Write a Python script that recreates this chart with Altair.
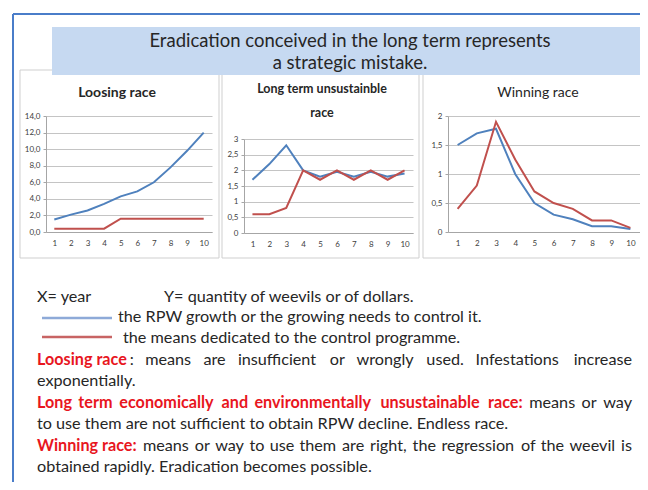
import altair as alt
import pandas as pd

# ---------------- data ----------------
years = list(range(1, 11))
series_names = ["RPW growth", "Control means"]

loosing_growth = [1.5, 2.1, 2.6, 3.4, 4.3, 4.9, 6.0, 7.8, 9.8, 12.0]
loosing_means = [0.4, 0.4, 0.4, 0.4, 1.6, 1.6, 1.6, 1.6, 1.6, 1.6]
loosing_ticks = [0, 2, 4, 6, 8, 10, 12, 14]

longterm_growth = [1.7, 2.2, 2.8, 2.0, 1.8, 1.95, 1.8, 1.95, 1.8, 1.9]
longterm_means = [0.6, 0.6, 0.8, 2.0, 1.7, 2.0, 1.7, 2.0, 1.7, 2.0]
longterm_ticks = [0, 0.5, 1, 1.5, 2, 2.5, 3]

winning_growth = [1.5, 1.7, 1.78, 1.0, 0.5, 0.3, 0.22, 0.1, 0.1, 0.05]
winning_means = [0.4, 0.8, 1.9, 1.25, 0.7, 0.5, 0.4, 0.2, 0.2, 0.07]
winning_ticks = [0, 0.5, 1, 1.5, 2]

panel_titles = [["Loosing race"], ["Long term unsustainble", "race"], ["Winning race"]]
headline = ["Eradication conceived in the long term represents", "a strategic mistake."]

# ---------------- styling ----------------
FONT = "Lato"
BLUE = "#4f81bd"
RED = "#c0504d"
TXT = "#262626"
TXT_RED = "#e8161e"
BODY = 16.2
BOLD = 16.2
W, H = 632, 474
OFF = 8  # page margin: reference pixel -> canvas pixel

anchor = pd.DataFrame({"k": [0]})

# approximate advance widths (em) used only to spread justified words
CW = {" ": 0.193, "a": 0.49, "b": 0.55, "c": 0.46, "d": 0.55, "e": 0.51, "f": 0.33,
      "g": 0.50, "h": 0.55, "i": 0.24, "j": 0.24, "k": 0.50, "l": 0.24, "m": 0.82,
      "n": 0.55, "o": 0.55, "p": 0.54, "q": 0.55, "r": 0.37, "s": 0.42, "t": 0.36,
      "u": 0.55, "v": 0.50, "w": 0.76, "x": 0.49, "y": 0.50, "z": 0.45, ".": 0.22,
      ",": 0.22, ":": 0.24, "I": 0.28, "L": 0.48, "W": 0.96, "R": 0.60, "P": 0.57}


def tw(s, size, bold=False):
    w = sum(CW.get(ch, 0.55) for ch in s) * size * 1.04
    return w * (1.025 if bold else 1.0)


def cx(x):
    return x - OFF


def cy(y):
    return y - OFF


def rule(x1, y1, x2, y2, color, sw):
    return alt.Chart(anchor).mark_rule(color=color, strokeWidth=sw).encode(
        x=alt.value(cx(x1)), x2=alt.value(cx(x2)), y=alt.value(cy(y1)), y2=alt.value(cy(y2))
    )


def box(x1, y1, x2, y2, fill=None, stroke=None):
    kw = {}
    if fill is not None:
        kw["fill"] = fill
    else:
        kw["fillOpacity"] = 0
    if stroke is not None:
        kw["stroke"] = stroke
        kw["strokeWidth"] = 1
    return alt.Chart(anchor).mark_rect(**kw).encode(
        x=alt.value(cx(x1)), x2=alt.value(cx(x2)), y=alt.value(cy(y1)), y2=alt.value(cy(y2))
    )


def label(s, x, y, size=BODY, color=TXT, weight="normal", align="left"):
    return alt.Chart(anchor).mark_text(
        text=s, font=FONT, fontSize=size, color=color, fontWeight=weight,
        align=align, baseline="middle"
    ).encode(x=alt.value(cx(x)), y=alt.value(cy(y)))


def justified(y, red_chunks, black_text, red_suffix_black="", x0=37, x1=632):
    """One justified line: red bold chunks, then black words spread up to x1."""
    items = [(c, True) for c in red_chunks] + [(w, False) for w in black_text.split()]
    widths = []
    for idx, (w, red) in enumerate(items):
        wd = tw(w, BOLD if red else BODY, red)
        if red and idx == len(red_chunks) - 1 and red_suffix_black:
            wd += tw(red_suffix_black, BODY) + 1
        widths.append(wd)
    gap = max((x1 - x0 - sum(widths)) / (len(items) - 1), tw(" ", BODY) + 1)
    out = []
    x = x0
    for idx, ((w, red), wd) in enumerate(zip(items, widths)):
        if idx == len(items) - 1:
            out.append(label(w, x1, y, align="right"))
        elif red:
            out.append(label(w, x, y, size=BOLD, color=TXT_RED, weight="bold"))
            if idx == len(red_chunks) - 1 and red_suffix_black:
                out.append(label(red_suffix_black, x + tw(w, BOLD, True) + 1, y))
        else:
            out.append(label(w, x, y))
        x += wd + gap
    return out


def panel(growth, means, ticks, label_expr, x_range, y_range):
    df = pd.DataFrame({
        "year": years + years,
        "value": growth + means,
        "series": [series_names[0]] * len(years) + [series_names[1]] * len(years),
    })
    xr = [cx(x_range[0]), cx(x_range[1])]
    yr = [cy(y_range[0]), cy(y_range[1])]
    return alt.Chart(df).mark_line(strokeWidth=2).encode(
        x=alt.X("year:Q",
                scale=alt.Scale(domain=[0.5, 10.5], range=xr, nice=False, zero=False),
                axis=alt.Axis(orient="bottom", offset=yr[0] - H, values=years, title=None,
                              grid=False, ticks=False, domainColor="#a6a6a6",
                              labelFont=FONT, labelFontSize=8, labelColor="#404040",
                              labelPadding=7, labelFlush=False)),
        y=alt.Y("value:Q",
                scale=alt.Scale(domain=[ticks[0], ticks[-1]], range=yr, nice=False, zero=True),
                axis=alt.Axis(orient="left", offset=-xr[0], values=ticks, title=None,
                              labelExpr=label_expr, grid=True, gridColor="#c4c4c4",
                              domainColor="#a6a6a6", tickColor="#a6a6a6", tickSize=3,
                              labelFont=FONT, labelFontSize=8, labelColor="#404040",
                              labelPadding=3, labelFlush=False)),
        color=alt.Color("series:N", scale=alt.Scale(domain=series_names, range=[BLUE, RED]),
                        legend=None),
        detail="series:N",
    )


layers = []

# outer blue frame
layers.append(rule(13, 14, 660, 14, "#4a7dc9", 2))
layers.append(rule(13, 14, 13, 500, "#4a7dc9", 2))

# panel frames
layers.append(box(20, 70, 219, 258, stroke="#cfcfcf"))
layers.append(box(222, 70, 419, 258, stroke="#cfcfcf"))
layers.append(box(423, 70, 660, 258, stroke="#cfcfcf"))

# headline box
layers.append(box(52, 27, 660, 75, fill="#c6d9f1"))
layers.append(label(headline[0], 350, 41, size=18.5, align="center"))
layers.append(label(headline[1], 350, 63, size=18.5, align="center"))

# panel titles
layers.append(label(panel_titles[0][0], 117, 93, size=14, weight="bold", align="center"))
layers.append(label(panel_titles[1][0], 322, 89, size=12.5, weight="bold", align="center"))
layers.append(label(panel_titles[1][1], 322, 113, size=12.5, weight="bold", align="center"))
layers.append(label(panel_titles[2][0], 538, 93, size=14, align="center"))

# the three charts
fmt1 = "replace(format(datum.value, '.1f'), '.', ',')"
fmt2 = "replace(toString(datum.value), '.', ',')"
layers.append(panel(loosing_growth, loosing_means, loosing_ticks, fmt1, (46, 212), (232, 116)))
layers.append(panel(longterm_growth, longterm_means, longterm_ticks, fmt2, (244, 413), (233, 139)))
layers.append(panel(winning_growth, winning_means, winning_ticks, fmt2, (448, 640), (232, 116)))

# explanatory text
layers.append(label("X= year", 37, 297))
layers.append(label("Y= quantity of weevils or of dollars.", 164, 297))
layers.append(rule(42, 318, 112, 318, "#8eaad8", 2.5))
layers.append(label("the RPW growth or the growing needs to control it.", 118, 317))
layers.append(rule(42, 337, 112, 337, "#c86464", 2.5))
layers.append(label("the means dedicated to the control programme.", 123, 338))

layers += justified(360, ["Loosing race"],
                    "means are insufficient or wrongly used. Infestations increase",
                    red_suffix_black=":")
layers.append(label("exponentially.", 37, 381))
layers += justified(403, "Long term economically and environmentally unsustainable race:".split(),
                    "means or way")
layers.append(label("to use them are not sufficient to obtain RPW decline. Endless race.", 37, 424))
layers += justified(446, ["Winning race:"],
                    "means or way to use them are right, the regression of the weevil is")
layers.append(label("obtained rapidly. Eradication becomes possible.", 37, 467))

chart = alt.layer(*layers).resolve_scale(
    x="independent", y="independent", color="independent"
).resolve_axis(
    x="independent", y="independent"
).properties(
    width=W, height=H, padding=0,
    autosize=alt.AutoSizeParams(type="none"),
    background="white",
).configure_view(stroke=None)

chart.save("out.html", embed_options={"renderer": "svg", "actions": False})
